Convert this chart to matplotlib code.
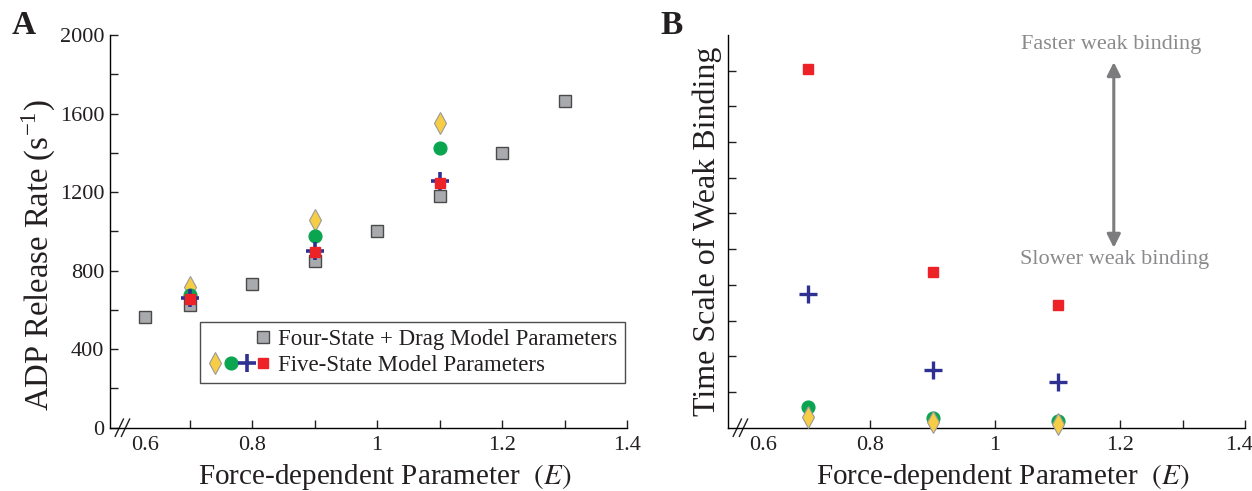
import numpy as np
import matplotlib
matplotlib.use('Agg')
import matplotlib.pyplot as plt
import matplotlib.transforms as mtransforms
from matplotlib.lines import Line2D
from matplotlib.legend_handler import HandlerTuple

plt.rcParams['font.family'] = ['Liberation Serif', 'DejaVu Serif']
plt.rcParams['mathtext.fontset'] = 'stix'

# Panel A: ADP release rate (s^-1)
E_four = [0.6, 0.7, 0.8, 0.9, 1.0, 1.1, 1.2, 1.3]
adp_four = [562, 625, 730, 850, 1003, 1182, 1399, 1664]

E_five = [0.7, 0.9, 1.1]
adp_diamond = [715, 1058, 1550]
adp_circle = [676, 976, 1423]
adp_plus = [659, 901, 1256]
adp_square = [654, 896, 1248]

# Panel B: time scale of weak binding (arbitrary units)
tw_square = [10.05, 4.37, 3.43]
tw_plus = [3.75, 1.62, 1.27]
tw_circle = [0.57, 0.26, 0.20]
tw_diamond = [0.31, 0.16, 0.11]

x_ticks = [0.6, 0.7, 0.8, 0.9, 1.0, 1.1, 1.2, 1.3, 1.4]
x_labels = ['0.6', '', '0.8', '', '1', '', '1.2', '', '1.4']
yA_ticks = list(range(0, 2001, 200))
yA_labels = [str(v) if v % 400 == 0 else '' for v in yA_ticks]
yB_ticks = list(range(1, 11))

gray_fc = '#a9aaae'
gray_ec = '#4a4a4a'
yellow = '#f7cd46'
green = '#0ba552'
blue = '#2e3192'
red = '#ec2227'
note_gray = '#8a8a8c'
ink = '#231f20'

# the axis is broken below 0.7, squeeze that part a bit
K = 0.72


def fwd(x):
    x = np.asarray(x, dtype=float)
    return np.where(x < 0.7, 0.7 - (0.7 - x) * K, x)


def inv(x):
    x = np.asarray(x, dtype=float)
    return np.where(x < 0.7, 0.7 - (0.7 - x) / K, x)


fig = plt.figure(figsize=(12.52, 4.91), dpi=100)
axA = fig.add_axes([110 / 1252, 63.3 / 491, 517 / 1252, 392.7 / 491])
axB = fig.add_axes([728 / 1252, 63.3 / 491, 517 / 1252, 392.7 / 491])

for ax in (axA, axB):
    ax.set_xscale('function', functions=(fwd, inv))
    ax.set_xlim(0.523, 1.4)
    ax.spines['top'].set_visible(False)
    ax.spines['right'].set_visible(False)
    ax.spines['left'].set_linewidth(1.0)
    ax.spines['bottom'].set_linewidth(1.0)
    ax.set_xticks(x_ticks, labels=x_labels)
    ax.xaxis.get_major_ticks()[0].tick1line.set_visible(False)
    ax.minorticks_off()
    ax.tick_params(axis='both', direction='in', length=6, width=1.0,
                   labelsize=16, colors=ink)
    ax.tick_params(axis='x', pad=6)
    ax.set_xlabel('Force-dependent Parameter  $(E)$', fontsize=21, color=ink)
    ax.xaxis.set_label_coords(0.532, -0.088)
    # break marks on the x axis
    d = dict(transform=ax.transAxes, color=ink, lw=1.0, clip_on=False)
    for off in (0.010, 0.022):
        ax.plot([off, off + 0.016], [-0.022, 0.022], **d)

# ---- Panel A ----
axA.set_ylim(0, 2000)
axA.set_yticks(yA_ticks, labels=yA_labels)
axA.tick_params(axis='y', pad=4)
axA.set_ylabel('ADP Release Rate (s$^{\\mathregular{-1}}$)', fontsize=23.5,
               color=ink)
axA.yaxis.set_label_coords(-0.103, 0.44)

axA.plot(E_four, adp_four, linestyle='none', marker='s', ms=8.8,
         mfc=gray_fc, mec=gray_ec, mew=1.0, zorder=3)
axA.plot(E_five, adp_diamond, linestyle='none', marker='d', ms=11,
         mfc=yellow, mec='#9a9a9a', mew=0.8, zorder=4)
axA.plot(E_five, adp_circle, linestyle='none', marker='o', ms=9.2,
         mfc=green, mec=green, zorder=5)
axA.plot(E_five, adp_plus, linestyle='none', marker='+', ms=13,
         mec=blue, mew=2.6, zorder=6)
axA.plot(E_five, adp_square, linestyle='none', marker='s', ms=7.5,
         mfc=red, mec=red, zorder=7)

blank = Line2D([], [], linestyle='none', marker=None)
h_gray = Line2D([], [], linestyle='none', marker='s', ms=8.8,
                mfc=gray_fc, mec=gray_ec, mew=1.0)
h_dia = Line2D([], [], linestyle='none', marker='d', ms=11,
               mfc=yellow, mec='#9a9a9a', mew=0.8)
h_cir = Line2D([], [], linestyle='none', marker='o', ms=9.2,
               mfc=green, mec=green)
h_plus = Line2D([], [], linestyle='none', marker='+', ms=13,
                mec=blue, mew=2.6)
h_sq = Line2D([], [], linestyle='none', marker='s', ms=7.5,
              mfc=red, mec=red)
leg = axA.legend([(blank, blank, blank, h_gray), (h_dia, h_cir, h_plus, h_sq)],
                 ['Four-State + Drag Model Parameters', 'Five-State Model Parameters'],
                 handler_map={tuple: HandlerTuple(ndivide=None, pad=0.0)},
                 loc='upper left', bbox_to_anchor=(0.175, 0.27),
                 fontsize=16.5, handlelength=2.8, handletextpad=0.3,
                 borderpad=0.3, labelspacing=0.25, borderaxespad=0,
                 frameon=True, fancybox=False, edgecolor=ink)
leg.get_frame().set_linewidth(1.0)
for t in leg.get_texts():
    t.set_color(ink)

# ---- Panel B ----
axB.set_ylim(0, 11)
axB.set_yticks(yB_ticks, labels=[''] * len(yB_ticks))
axB.set_ylabel('Time Scale of Weak Binding', fontsize=23, color=ink)
axB.yaxis.set_label_coords(-0.012, 0.5)

# last tick label sits a bit left so it stays inside the figure
lbl = axB.get_xticklabels()[-1]
lbl.set_transform(lbl.get_transform() +
                  mtransforms.ScaledTranslation(-6 / 100, 0, fig.dpi_scale_trans))

axB.plot(E_five, tw_square, linestyle='none', marker='s', ms=7.5,
         mfc=red, mec=red, zorder=4)
axB.plot(E_five, tw_plus, linestyle='none', marker='+', ms=13,
         mec=blue, mew=2.4, zorder=4)
axB.plot(E_five, tw_circle, linestyle='none', marker='o', ms=9.2,
         mfc=green, mec=green, zorder=5)
axB.plot(E_five, tw_diamond, linestyle='none', marker='d', ms=11,
         mfc=yellow, mec='#9a9a9a', mew=0.8, zorder=6, clip_on=False)

axB.annotate('', xy=(1.19, 10.24), xytext=(1.19, 5.04),
             arrowprops=dict(arrowstyle='<|-|>', color='#7c7c7e', lw=2.2,
                             mutation_scale=20, shrinkA=0, shrinkB=0))
axB.text(1.185, 10.72, 'Faster weak binding', fontsize=16, color=note_gray,
         ha='center', va='center')
axB.text(1.191, 4.72, 'Slower weak binding', fontsize=16, color=note_gray,
         ha='center', va='center')

fig.text(12 / 1252, 1 - 26 / 491, 'A', fontsize=24, fontweight='bold',
         va='center', ha='left', color=ink)
fig.text(660 / 1252, 1 - 26 / 491, 'B', fontsize=24, fontweight='bold',
         va='center', ha='left', color=ink)

fig.savefig('out.png', dpi=100)
